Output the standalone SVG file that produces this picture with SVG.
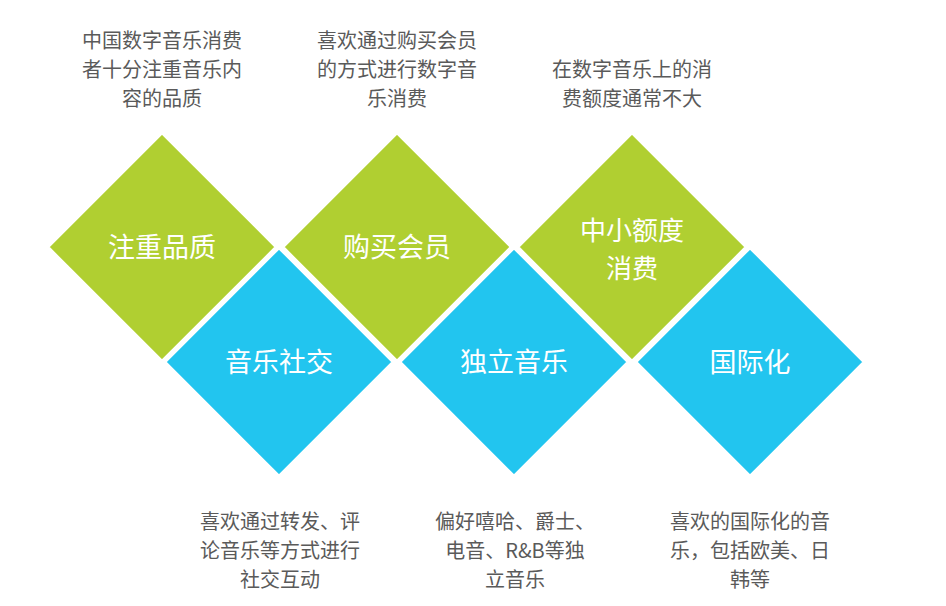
<svg xmlns="http://www.w3.org/2000/svg" width="946" height="606" viewBox="0 0 946 606">
<style>
.g{fill:#b0cf31;stroke:#fff;stroke-width:2.5}
.b{fill:#22c5ef;stroke:#fff;stroke-width:2.5}
.t{font-family:"Noto Sans CJK SC","Noto Sans",sans-serif;font-size:27px;fill:#fff;text-anchor:middle}
.s{font-size:26px}
.d{font-family:"Noto Sans CJK SC","Noto Sans",sans-serif;font-size:20px;fill:#5a5a5a;text-anchor:middle}
</style>
<rect width="946" height="606" fill="#fff"/>
<g id="connectors"></g>
<g id="n1"><polygon class="g" points="162,133 276,247 162,361 48,247"/><text class="t" x="162" y="257">注重品质</text></g>
<g id="n3"><polygon class="g" points="397,133 511,247 397,361 283,247"/><text class="t" x="397" y="257">购买会员</text></g>
<g id="n5"><polygon class="g" points="632,133 746,247 632,361 518,247"/><text class="t s" x="632" y="240">中小额度</text><text class="t s" x="632" y="278">消费</text></g>
<g id="n2"><polygon class="b" points="279,248 393,362 279,476 165,362"/><text class="t" x="279" y="372">音乐社交</text></g>
<g id="n4"><polygon class="b" points="514,248 628,362 514,476 400,362"/><text class="t" x="514" y="372">独立音乐</text></g>
<g id="n6"><polygon class="b" points="750,248 864,362 750,476 636,362"/><text class="t" x="750" y="372">国际化</text></g>
<g id="desc1"><text class="d" x="162" y="48">中国数字音乐消费</text><text class="d" x="162" y="77">者十分注重音乐内</text><text class="d" x="162" y="106">容的品质</text></g>
<g id="desc3"><text class="d" x="397" y="48">喜欢通过购买会员</text><text class="d" x="397" y="77">的方式进行数字音</text><text class="d" x="397" y="106">乐消费</text></g>
<g id="desc5"><text class="d" x="632" y="77">在数字音乐上的消</text><text class="d" x="632" y="106">费额度通常不大</text></g>
<g id="desc2"><text class="d" x="280" y="529">喜欢通过转发、评</text><text class="d" x="280" y="558">论音乐等方式进行</text><text class="d" x="280" y="587">社交互动</text></g>
<g id="desc4"><text class="d" x="515" y="529">偏好嘻哈、爵士、</text><text class="d" x="515" y="558">电音、R&amp;B等独</text><text class="d" x="515" y="587">立音乐</text></g>
<g id="desc6"><text class="d" x="750" y="529">喜欢的国际化的音</text><text class="d" x="750" y="558">乐，包括欧美、日</text><text class="d" x="750" y="587">韩等</text></g>
</svg>
